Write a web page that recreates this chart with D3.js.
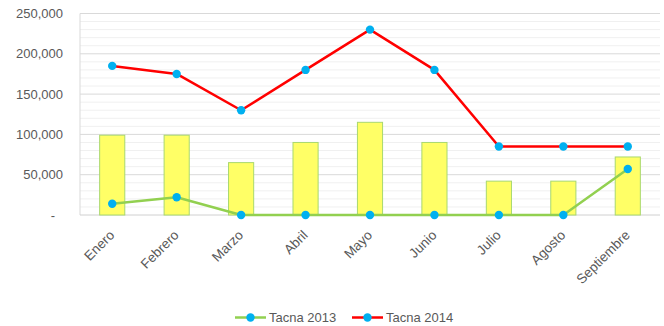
<!DOCTYPE html>
<html>
<head>
<meta charset="utf-8">
<script src="https://cdn.jsdelivr.net/npm/d3@7"></script>
<style>
  html, body { margin: 0; padding: 0; background: #fff; }
  svg { display: block; font-family: "Liberation Sans", Arial, sans-serif; }
</style>
</head>
<body>
<svg id="chart" width="664" height="326"></svg>
<script>
// Months shown on the category axis
const months = ["Enero", "Febrero", "Marzo", "Abril", "Mayo", "Junio", "Julio", "Agosto", "Septiembre"];
// Column series (unlabelled in the legend)
const barValues = [99000, 99000, 65000, 90000, 115000, 90000, 42000, 42000, 72000];
// Line series
const tacna2013 = [14000, 22000, 0, 0, 0, 0, 0, 0, 57000];
const tacna2014 = [185000, 175000, 130000, 180000, 230000, 180000, 85000, 85000, 85000];
const yTicks = [0, 50000, 100000, 150000, 200000, 250000];
const seriesNames = ["Tacna 2013", "Tacna 2014"];

const svg = d3.select("#chart");
const plotLeft = 80, plotRight = 660, plotTop = 13.5, plotBottom = 215;

const x = d3.scaleBand().domain(months).range([plotLeft, plotRight]).paddingInner(0.61).paddingOuter(0.305);
const y = d3.scaleLinear().domain([0, 250000]).range([plotBottom, plotTop]);

// Minor gridlines every 10,000
svg.append("g").selectAll("line")
  .data(d3.range(10000, 250000, 10000).filter(v => v % 50000 !== 0))
  .join("line")
  .attr("x1", plotLeft).attr("x2", plotRight)
  .attr("y1", d => y(d)).attr("y2", d => y(d))
  .attr("stroke", "#f0f0f0").attr("stroke-width", 1);

// Major gridlines
svg.append("g").selectAll("line")
  .data(yTicks.filter(v => v > 0))
  .join("line")
  .attr("x1", plotLeft).attr("x2", plotRight)
  .attr("y1", d => y(d)).attr("y2", d => y(d))
  .attr("stroke", "#d9d9d9").attr("stroke-width", 1);

// Left edge and baseline
svg.append("line").attr("x1", plotLeft).attr("x2", plotLeft).attr("y1", plotTop).attr("y2", plotBottom)
  .attr("stroke", "#d9d9d9");
svg.append("line").attr("x1", plotLeft).attr("x2", plotRight).attr("y1", plotBottom).attr("y2", plotBottom)
  .attr("stroke", "#d0d0d0");

// Y axis labels
const yAxis = d3.axisLeft(y).tickValues(yTicks).tickSize(0).tickPadding(0)
  .tickFormat(d => d === 0 ? "-" : d3.format(",")(d));
const yg = svg.append("g").attr("transform", `translate(${plotLeft - 17},0)`).call(yAxis);
yg.select(".domain").remove();
yg.selectAll("text").attr("fill", "#595959").style("font-size", "13px")
  .attr("font-family", "Liberation Sans, Arial, sans-serif");
yg.selectAll(".tick").filter(d => d === 0).select("text").attr("dx", -8);

// Columns
svg.append("g").selectAll("rect")
  .data(barValues)
  .join("rect")
  .attr("x", (d, i) => x(months[i]))
  .attr("y", d => y(d))
  .attr("width", x.bandwidth())
  .attr("height", d => y(0) - y(d))
  .attr("fill", "#ffff66")
  .attr("stroke", "#a9d86e")
  .attr("stroke-width", 1);

const cx = m => x(m) + x.bandwidth() / 2;
const line = d3.line().x((d, i) => cx(months[i])).y(d => y(d));

function drawSeries(values, color) {
  svg.append("path").datum(values)
    .attr("d", line).attr("fill", "none")
    .attr("stroke", color).attr("stroke-width", 2.5)
    .attr("stroke-linejoin", "round");
  svg.append("g").selectAll("circle")
    .data(values).join("circle")
    .attr("cx", (d, i) => cx(months[i]))
    .attr("cy", d => y(d))
    .attr("r", 4.2)
    .attr("fill", "#00b0f0");
}
drawSeries(tacna2013, "#92d050");
drawSeries(tacna2014, "#ff0000");

// X axis labels, rotated
const xg = svg.append("g");
xg.selectAll("text").data(months).join("text")
  .attr("transform", d => `translate(${cx(d) + 3},${plotBottom + 21}) rotate(-45)`)
  .attr("text-anchor", "end")
  .attr("fill", "#595959")
  .style("font-size", "13.5px")
  .text(d => d);

// Legend
const legendItems = [
  { name: seriesNames[0], color: "#92d050", x: 235 },
  { name: seriesNames[1], color: "#ff0000", x: 352 }
];
const lg = svg.append("g");
legendItems.forEach(it => {
  lg.append("line").attr("x1", it.x).attr("x2", it.x + 31).attr("y1", 317.5).attr("y2", 317.5)
    .attr("stroke", it.color).attr("stroke-width", 2.5);
  lg.append("circle").attr("cx", it.x + 15.5).attr("cy", 317.5).attr("r", 4.2).attr("fill", "#00b0f0");
  lg.append("text").attr("x", it.x + 34).attr("y", 322).attr("fill", "#595959")
    .style("font-size", "13px").text(it.name);
});
</script>
</body>
</html>
